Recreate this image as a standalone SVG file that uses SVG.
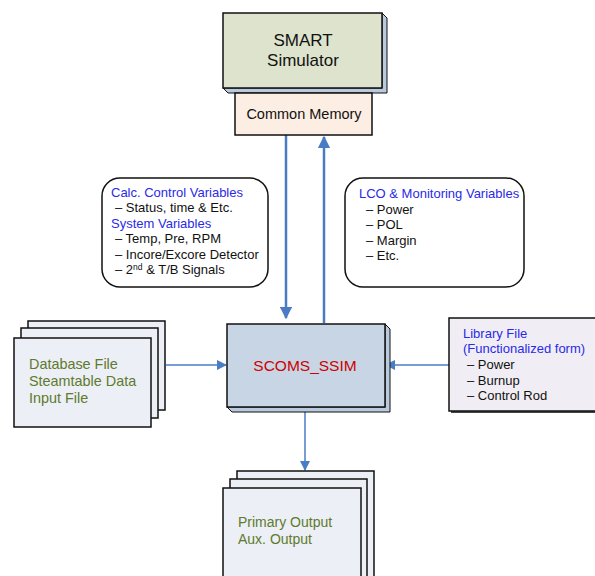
<svg xmlns="http://www.w3.org/2000/svg" width="595" height="576" viewBox="0 0 595 576">
<style>
text{font-family:"Liberation Sans",Arial,sans-serif;fill:#111}
.b{fill:#2a2ae8}
.g{fill:#5e7a2e}
.s{font-size:13px}
.edge{stroke:#4a7cc4;fill:none}
.box{stroke:#111;stroke-width:1.5}
</style>
<defs>
<marker id="ah" viewBox="0 0 10 10" refX="9" refY="5" markerWidth="5" markerHeight="5" orient="auto" markerUnits="strokeWidth"><path d="M0,0L10,5L0,10z" fill="#4a7cc4"/></marker>
<marker id="ah2" viewBox="0 0 10 10" refX="9" refY="5" markerWidth="7" markerHeight="7" orient="auto" markerUnits="strokeWidth"><path d="M0,0L10,5L0,10z" fill="#4a7cc4"/></marker>
</defs>
<rect width="595" height="576" fill="#fff"/>
<g id="connectors">
<line class="edge" x1="286" y1="135" x2="286" y2="318" stroke-width="2.5" marker-end="url(#ah)"/>
<line class="edge" x1="324" y1="323" x2="324" y2="137" stroke-width="2.5" marker-end="url(#ah)"/>
<line class="edge" x1="166" y1="365" x2="226" y2="365" stroke-width="1.5" marker-end="url(#ah2)"/>
<line class="edge" x1="449" y1="365" x2="386" y2="365" stroke-width="1.5" marker-end="url(#ah2)"/>
<line class="edge" x1="305" y1="412" x2="305" y2="470" stroke-width="1.5" marker-end="url(#ah2)"/>
</g>
<g id="smart">
<path d="M382,13L387,18L387,93L228,93L223,88L382,88Z" fill="#b9c9de" stroke="#111" stroke-width="1"/>
<rect class="box" x="223" y="13" width="159" height="75" fill="#dee3cd"/>
<text x="303" y="46" font-size="17" text-anchor="middle">SMART</text>
<text x="303" y="66" font-size="17" text-anchor="middle">Simulator</text>
</g>
<g id="common">
<rect class="box" x="235" y="93" width="137" height="42" fill="#fdeee3"/>
<text x="304" y="119" font-size="14.5" text-anchor="middle">Common Memory</text>
</g>
<g id="calc">
<rect class="box" x="102" y="178" width="166" height="109" rx="18" fill="#fff"/>
<text x="111" y="197" class="s b">Calc. Control Variables</text>
<text x="115" y="212" class="s">– Status, time &amp;  Etc.</text>
<text x="111" y="228" class="s b">System Variables</text>
<text x="115" y="243" class="s">– Temp, Pre, RPM</text>
<text x="115" y="259" class="s">– Incore/Excore Detector</text>
<text x="115" y="274" class="s">– 2<tspan font-size="8.5" dy="-4">nd</tspan><tspan dy="4"> &amp; T/B Signals</tspan></text>
</g>
<g id="lco">
<rect class="box" x="345" y="178" width="179" height="109" rx="18" fill="#fff"/>
<text x="359" y="198" class="s b">LCO &amp; Monitoring Variables</text>
<text x="366" y="214" class="s">– Power</text>
<text x="366" y="229" class="s">– POL</text>
<text x="366" y="245" class="s">– Margin</text>
<text x="366" y="260" class="s">– Etc.</text>
</g>
<g id="database">
<rect class="box" x="28" y="321" width="137" height="89" fill="#eceff5"/>
<rect class="box" x="21" y="328" width="137" height="90" fill="#eceff5"/>
<rect class="box" x="14" y="338" width="137" height="89" fill="#eceff5"/>
<text x="29" y="369" font-size="14.4" class="g">Database File</text>
<text x="29" y="386" font-size="14.4" class="g">Steamtable Data</text>
<text x="29" y="403" font-size="14.4" class="g">Input File</text>
</g>
<g id="scoms">
<path d="M385,324L390,329L390,412L232,412L227,407L385,407Z" fill="#b9c9de" stroke="#111" stroke-width="1"/>
<rect class="box" x="227" y="324" width="158" height="83" fill="#c8d5e4"/>
<text x="305" y="371" font-size="15.5" text-anchor="middle" style="fill:#cc0000">SCOMS_SSIM</text>
</g>
<g id="library">
<rect x="451" y="320" width="150" height="93" fill="#444"/>
<rect class="box" x="449" y="318" width="152" height="93" fill="#f0eef4"/>
<text x="463" y="338" class="s b">Library File</text>
<text x="463" y="353" class="s b">(Functionalized form)</text>
<text x="467" y="369" class="s">– Power</text>
<text x="467" y="385" class="s">– Burnup</text>
<text x="467" y="400" class="s">– Control Rod</text>
</g>
<g id="output">
<rect class="box" x="237" y="471" width="137" height="108" fill="#eceff5"/>
<rect class="box" x="230" y="479" width="137" height="100" fill="#eceff5"/>
<rect class="box" x="223" y="488" width="138" height="92" fill="#eceff5"/>
<text x="238" y="527" font-size="14" class="g">Primary Output</text>
<text x="238" y="544" font-size="14" class="g">Aux. Output</text>
</g>
</svg>
